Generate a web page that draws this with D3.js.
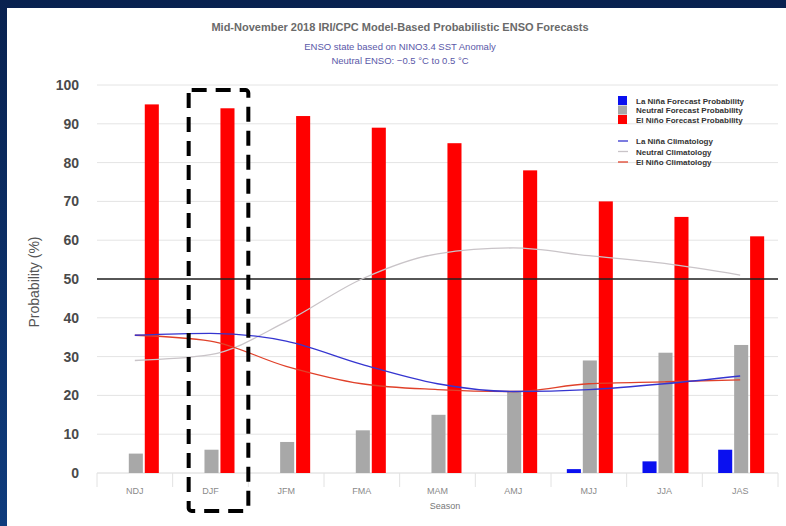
<!DOCTYPE html>
<html>
<head>
<meta charset="utf-8">
<script src="https://cdnjs.cloudflare.com/ajax/libs/d3/7.8.5/d3.min.js"></script>
<style>
  body { margin: 0; background: #0b2457; }
  svg { display: block; font-family: "Liberation Sans", Arial, sans-serif; }
  .grid line { stroke: #e4e4e4; }
  .ytick { font-size: 14px; font-weight: bold; fill: #4a4a4a; }
  .xtick { font-size: 9px; fill: #8a8a8a; }
  .legend text { font-size: 8px; font-weight: bold; fill: #333; }
</style>
</head>
<body>
<svg width="786" height="526"></svg>
<script>
var seasons = ['NDJ', 'DJF', 'JFM', 'FMA', 'MAM', 'AMJ', 'MJJ', 'JJA', 'JAS'];

var laNinaProb = [0, 0, 0, 0, 0, 0, 1, 3, 6];
var neutralProb = [5, 6, 8, 11, 15, 21, 29, 31, 33];
var elNinoProb = [95, 94, 92, 89, 85, 78, 70, 66, 61];

var laNinaClim = [35.5, 36, 34, 28, 23, 21, 21.5, 23, 25];
var neutralClim = [29, 30.5, 39, 50, 56.5, 58, 56, 54, 51];
var elNinoClim = [35.5, 34, 27.5, 23, 21.5, 21, 23, 23.5, 24];

var yTicks = [0, 10, 20, 30, 40, 50, 60, 70, 80, 90, 100];

var svg = d3.select('svg');

// dark frame
var grad = svg.append('defs').append('linearGradient')
    .attr('id', 'frame')
    .attr('x1', 0).attr('y1', 0).attr('x2', 0).attr('y2', 1);
grad.append('stop').attr('offset', '0%').attr('stop-color', '#08214f');
grad.append('stop').attr('offset', '100%').attr('stop-color', '#0f3c7d');

svg.append('rect')
    .attr('width', 786).attr('height', 526)
    .style('fill', 'url(#frame)');
svg.append('rect')
    .attr('x', 7).attr('y', 8)
    .attr('width', 779).attr('height', 518)
    .style('fill', '#fff');

var xScale = d3.scaleBand()
    .domain(seasons)
    .range([97, 778]);

var yScale = d3.scaleLinear()
    .domain([0, 100])
    .range([473, 85]);

var subScale = d3.scaleBand()
    .domain(['laNina', 'neutral', 'elNino'])
    .range([-22, 24])
    .paddingInner(0.12);

// gridlines
svg.append('g')
    .attr('class', 'grid')
    .selectAll('line')
    .data(yTicks.filter(function(d){ return d > 0; }))
    .enter()
    .append('line')
    .attr('x1', 97)
    .attr('x2', 778)
    .attr('y1', function(d){ return yScale(d); })
    .attr('y2', function(d){ return yScale(d); });

svg.selectAll('.ytick')
    .data(yTicks)
    .enter()
    .append('text')
    .attr('class', 'ytick')
    .attr('x', 79)
    .attr('y', function(d){ return yScale(d) + 5; })
    .attr('text-anchor', 'end')
    .text(function(d){ return d; });

// x axis: baseline and separators
svg.append('line')
    .attr('x1', 97).attr('x2', 778)
    .attr('y1', yScale(0)).attr('y2', yScale(0))
    .style('stroke', '#d8d8d8');

svg.selectAll('.sep')
    .data(seasons.concat(['end']))
    .enter()
    .append('line')
    .attr('class', 'sep')
    .attr('x1', function(d, i){ return 97 + i * xScale.step(); })
    .attr('x2', function(d, i){ return 97 + i * xScale.step(); })
    .attr('y1', yScale(0))
    .attr('y2', yScale(0) + 14)
    .style('stroke', '#e2e2e2');

svg.selectAll('.xtick')
    .data(seasons)
    .enter()
    .append('text')
    .attr('class', 'xtick')
    .attr('x', function(d){ return xScale(d) + xScale.bandwidth() / 2; })
    .attr('y', 494)
    .attr('text-anchor', 'middle')
    .text(function(d){ return d; });

svg.append('text')
    .attr('x', 445).attr('y', 509)
    .attr('text-anchor', 'middle')
    .style('font-size', '9px')
    .style('fill', '#777')
    .text('Season');

// bars
var barSeries = [
    { key: 'laNina', values: laNinaProb, color: '#0a10f0' },
    { key: 'neutral', values: neutralProb, color: '#a8a8a8' },
    { key: 'elNino', values: elNinoProb, color: '#ff0000' }
];

barSeries.forEach(function(s){
    svg.append('g')
        .selectAll('rect')
        .data(s.values)
        .enter()
        .append('rect')
        .attr('x', function(d, i){
            return xScale(seasons[i]) + xScale.bandwidth() / 2 + subScale(s.key);
        })
        .attr('y', function(d){ return yScale(d); })
        .attr('width', subScale.bandwidth())
        .attr('height', function(d){ return yScale(0) - yScale(d); })
        .style('fill', s.color);
});

// 50% line
svg.append('line')
    .attr('x1', 97).attr('x2', 778)
    .attr('y1', yScale(50)).attr('y2', yScale(50))
    .style('stroke', '#222')
    .style('stroke-width', 1.3);

// climatology lines
var line = d3.line()
    .x(function(d, i){ return xScale(seasons[i]) + xScale.bandwidth() / 2; })
    .y(function(d){ return yScale(d); })
    .curve(d3.curveMonotoneX);

var climSeries = [
    { values: neutralClim, color: '#c9c4c8' },
    { values: elNinoClim, color: '#e0412a' },
    { values: laNinaClim, color: '#3535d0' }
];

climSeries.forEach(function(s){
    svg.append('path')
        .attr('d', line(s.values))
        .style('fill', 'none')
        .style('stroke', s.color)
        .style('stroke-width', 1.3);
});

// titles
svg.append('text')
    .attr('x', 400).attr('y', 31)
    .attr('text-anchor', 'middle')
    .style('font-size', '11px')
    .style('font-weight', 'bold')
    .style('fill', '#6a6a6a')
    .text('Mid-November 2018 IRI/CPC Model-Based Probabilistic ENSO Forecasts');

svg.append('text')
    .attr('x', 400).attr('y', 50)
    .attr('text-anchor', 'middle')
    .style('font-size', '9.5px')
    .style('fill', '#5a58a8')
    .text('ENSO state based on NINO3.4 SST Anomaly');

svg.append('text')
    .attr('x', 400).attr('y', 64)
    .attr('text-anchor', 'middle')
    .style('font-size', '9.5px')
    .style('fill', '#5a58a8')
    .text('Neutral ENSO: \u22120.5 \u00b0C to 0.5 \u00b0C');

svg.append('text')
    .attr('transform', 'translate(39,282) rotate(-90)')
    .attr('text-anchor', 'middle')
    .style('font-size', '14px')
    .style('fill', '#555')
    .text('Probability (%)');

// legend
var legend = svg.append('g').attr('class', 'legend');

var barLegend = [
    { label: 'La Niña Forecast Probability', color: '#0a10f0' },
    { label: 'Neutral Forecast Probability', color: '#a8a8a8' },
    { label: 'El Niño Forecast Probability', color: '#ff0000' }
];
var lineLegend = [
    { label: 'La Niña Climatology', color: '#3535d0' },
    { label: 'Neutral Climatology', color: '#c9c4c8' },
    { label: 'El Niño Climatology', color: '#e0412a' }
];

barLegend.forEach(function(d, i){
    legend.append('rect')
        .attr('x', 618).attr('y', 96 + i * 9.5)
        .attr('width', 9).attr('height', 9)
        .style('fill', d.color);
    legend.append('text')
        .attr('x', 636).attr('y', 103.5 + i * 9.5)
        .text(d.label);
});

lineLegend.forEach(function(d, i){
    legend.append('line')
        .attr('x1', 618).attr('x2', 628)
        .attr('y1', 141 + i * 10.5).attr('y2', 141 + i * 10.5)
        .style('stroke', d.color)
        .style('stroke-width', 1.3);
    legend.append('text')
        .attr('x', 636).attr('y', 144 + i * 10.5)
        .text(d.label);
});

// dashed highlight around DJF
svg.append('rect')
    .attr('x', xScale('DJF') + 16)
    .attr('y', 90)
    .attr('width', xScale.bandwidth() - 16)
    .attr('height', 421)
    .attr('rx', 3)
    .style('fill', 'none')
    .style('stroke', '#000')
    .style('stroke-width', 4)
    .style('stroke-dasharray', '15,9');
</script>
</body>
</html>
